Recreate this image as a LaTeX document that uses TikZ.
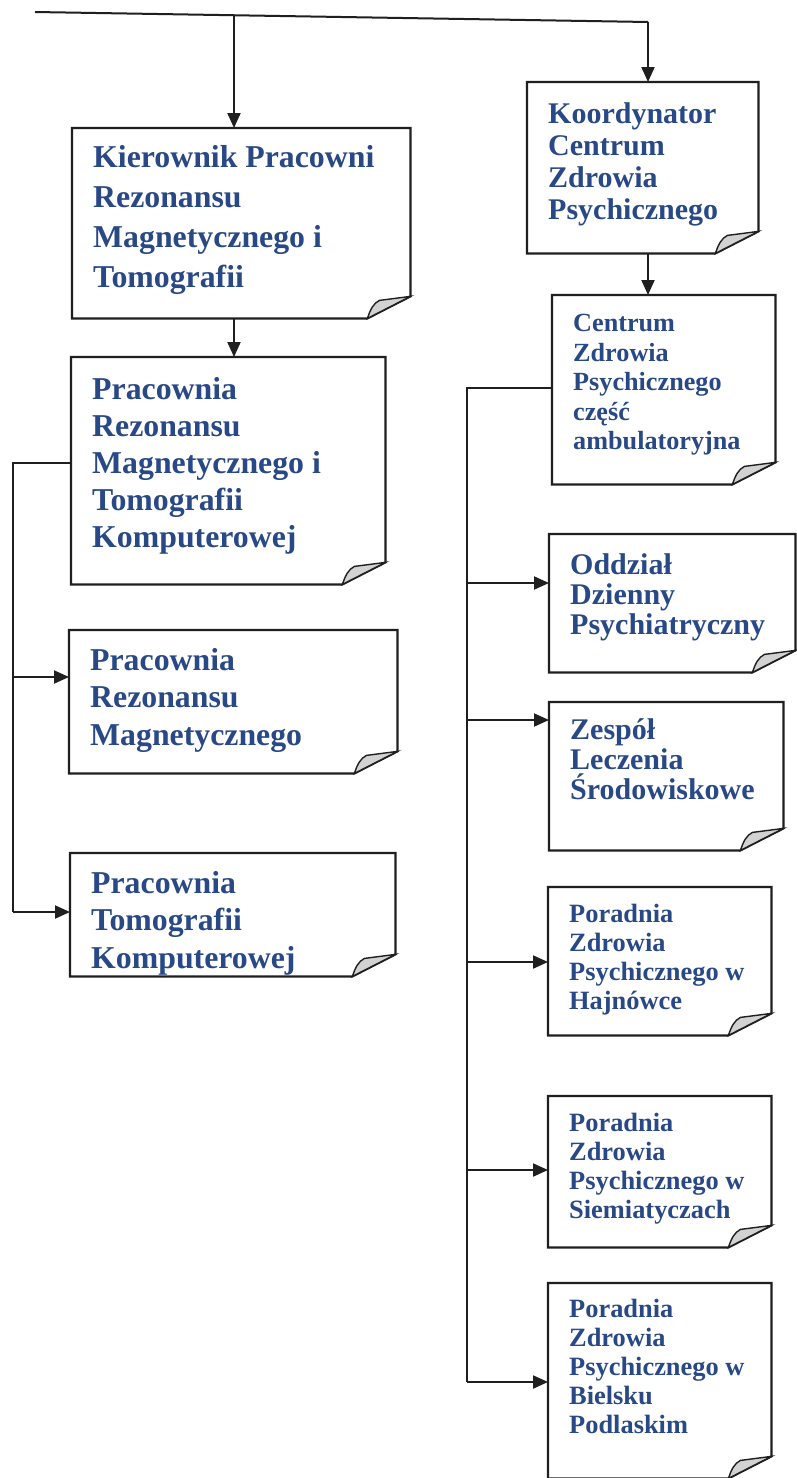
\documentclass[tikz,border=0pt]{standalone}
\usepackage{fontspec}
\setmainfont{Liberation Serif}
\usetikzlibrary{arrows.meta}
\definecolor{txtblue}{RGB}{40,72,134}
\definecolor{flapgray}{RGB}{210,210,210}
\tikzset{
  boxnode/.style={rectangle, inner sep=0pt, draw=none, anchor=north west},
  outline/.style={line width=2.2pt, draw=black!88, line join=miter},
  conn/.style={line width=2pt, draw=black!88, line join=miter},
  arr/.style={conn, -{Triangle[length=15pt,width=13pt]}},
  lbl/.style={anchor=north west, inner sep=0pt, align=left, text=txtblue},
}
% name, left, top, width, height
\newcommand\mkbox[5]{%
  \node[boxnode, minimum width=#4pt, minimum height=#5pt] (#1) at (#2,#3) {};}
\newcommand\foldedge[1]{%
  \draw[outline] (#1.north west) -- (#1.north east) -- ([yshift=22pt]#1.south east)
     -- ([xshift=-43pt]#1.south east) -- (#1.south west) -- cycle;
  \filldraw[outline, line width=1.4pt, fill=flapgray]
     ([xshift=-43pt]#1.south east) .. controls ([xshift=-40pt,yshift=9pt]#1.south east)
     and ([xshift=-37pt,yshift=15pt]#1.south east) .. ([xshift=-31pt,yshift=18pt]#1.south east)
     -- ([yshift=22pt]#1.south east) -- cycle;}
% name, size, baselineskip, top offset, text
\newcommand\mklabel[5]{%
  \node[lbl, font=\bfseries\fontsize{#2}{#3}\selectfont] (#1t)
     at ([xshift=21pt,yshift=-#4pt]#1.north west) {#5};}

\begin{document}
\begin{tikzpicture}[x=1pt,y=-1pt]
\useasboundingbox[fill=white] (0,0) rectangle (796,1478);

% boxes
\mkbox{k}{72}{128}{338}{190}
\mkbox{ko}{527}{82}{231}{171}
\mkbox{c}{552}{295}{223}{189}
\mkbox{p2}{71}{357}{314}{227}
\mkbox{p3}{69}{630}{328}{143}
\mkbox{p4}{70}{853}{325}{123}
\mkbox{od}{549}{534}{246}{138}
\mkbox{ze}{549}{702}{234}{148}
\mkbox{h}{548}{887}{223}{148}
\mkbox{s}{548}{1096}{223}{151}
\mkbox{bi}{548}{1283}{223}{195}

\foreach \n in {k,ko,c,p2,p3,p4,od,ze,h,s,bi} {\foldedge{\n}}

% labels
\mklabel{k}{31.8}{40}{17}{Kierownik Pracowni\\Rezonansu\\Magnetycznego i\\Tomografii}
\mklabel{ko}{30}{32}{20}{Koordynator\\Centrum\\Zdrowia\\Psychicznego}
\mklabel{c}{26.2}{29.5}{19}{Centrum\\Zdrowia\\Psychicznego\\część\\ambulatoryjna}
\mklabel{p2}{31.8}{37}{20}{Pracownia\\Rezonansu\\Magnetycznego i\\Tomografii\\Komputerowej}
\mklabel{p3}{31.8}{37.5}{18}{Pracownia\\Rezonansu\\Magnetycznego}
\mklabel{p4}{31.8}{37.5}{18}{Pracownia\\Tomografii\\Komputerowej}
\mklabel{od}{30}{30}{19}{Oddział\\Dzienny\\Psychiatryczny}
\mklabel{ze}{30}{30}{16}{Zespół\\Leczenia\\Środowiskowe}
\mklabel{h}{26.4}{29}{17}{Poradnia\\Zdrowia\\Psychicznego w\\Hajnówce}
\mklabel{s}{26.4}{29}{17}{Poradnia\\Zdrowia\\Psychicznego w\\Siemiatyczach}
\mklabel{bi}{26.4}{29}{16}{Poradnia\\Zdrowia\\Psychicznego w\\Bielsku\\Podlaskim}

% top connectors
\coordinate (tA) at (35,12);
\coordinate (tB) at (648,22);
\coordinate (tK) at (234,15.2);
\draw[conn] (tA) -- (tB);
\draw[arr] (tB) -- (tB |- ko.north);
\draw[arr] (tK) -- (tK |- k.north);
\draw[arr] (tK |- k.south) -- (tK |- p2.north);
\draw[arr] (tB |- ko.south) -- (tB |- c.north);

% left bus
\coordinate (l0) at (13,463);
\coordinate (l1) at (13,677);
\coordinate (l2) at (13,912);
\draw[conn] (l0 -| p2.west) -- (l0) -- (l2);
\draw[arr] (l1) -- (l1 -| p3.west);
\draw[arr] (l2) -- (l2 -| p4.west);

% right bus
\coordinate (r0) at (467,388);
\coordinate (r1) at (467,583);
\coordinate (r2) at (467,720);
\coordinate (r3) at (467,962);
\coordinate (r4) at (467,1170);
\coordinate (r5) at (467,1382);
\draw[conn] (r0 -| c.west) -- (r0) -- (r5);
\draw[arr] (r1) -- (r1 -| od.west);
\draw[arr] (r2) -- (r2 -| ze.west);
\draw[arr] (r3) -- (r3 -| h.west);
\draw[arr] (r4) -- (r4 -| s.west);
\draw[arr] (r5) -- (r5 -| bi.west);
\end{tikzpicture}
\end{document}
